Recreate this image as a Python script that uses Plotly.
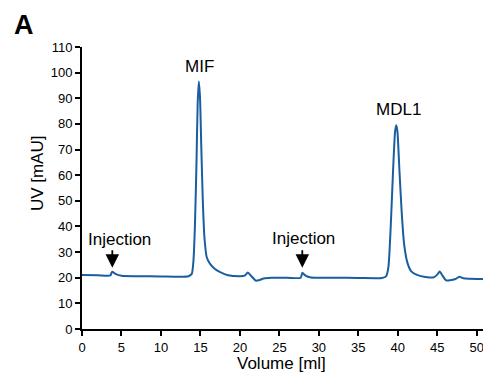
import plotly.graph_objects as go

# Chromatogram trace: volume (ml) and UV (mAU)
volume_ml = [0, 2, 3.6, 3.8, 4.3, 5, 7, 10, 12, 13.5, 13.9, 14.1, 14.3, 14.5, 14.65, 14.8,
             14.95, 15.1, 15.3, 15.5, 15.8, 16.2, 16.8, 17.5, 18.5, 20, 20.6, 21.0, 21.4,
             22.0, 22.4, 23.0, 24, 26, 27.7, 27.9, 28.3, 29, 32, 35, 38, 38.5, 38.8, 39.1,
             39.4, 39.65, 39.8, 39.95, 40.2, 40.5, 40.8, 41.2, 41.7, 42.5, 43.5, 44.5, 45.0,
             45.3, 45.7, 46.1, 46.6, 47.3, 47.8, 48.3, 49, 51.8]
uv_mau = [21.1, 21.0, 20.9, 22.3, 21.4, 20.8, 20.6, 20.5, 20.4, 20.6, 21.5, 26, 40, 65, 88, 96.5,
          90, 72, 50, 36, 28, 25.5, 23.5, 22.2, 21.0, 20.6, 20.8, 22.0, 20.8,
          18.9, 19.0, 19.7, 20.0, 20.0, 20.0, 21.9, 20.8, 20.1, 20.0, 19.9, 19.9, 20.5, 24, 40,
          62, 77, 79.5, 77, 62, 45, 33, 26, 22.5, 21.0, 20.3, 20.1, 21.2,
          22.4, 20.6, 19.0, 19.0, 19.5, 20.4, 19.8, 19.6, 19.5]

peak_labels = ["MIF", "MDL1"]
peak_x = [14.83, 40.1]
peak_label_y = [102.5, 85.5]

injection_x = [3.84, 27.9]
injection_tip_y = [23.9, 23.9]
injection_text_x = [4.78, 28.0]
injection_text_y = [34.8, 35.3]

x_ticks = list(range(0, 55, 5))
y_ticks = list(range(0, 120, 10))

font_family = "Liberation Sans, Arial, sans-serif"
line_color = "#1b5e9f"

fig = go.Figure()
fig.add_trace(go.Scatter(x=volume_ml, y=uv_mau, mode="lines",
                         line=dict(color=line_color, width=2, shape="spline", smoothing=0.6),
                         hoverinfo="skip", showlegend=False))

for lab, px, py in zip(peak_labels, peak_x, peak_label_y):
    fig.add_annotation(x=px, y=py, text=lab, showarrow=False,
                       font=dict(size=17, color="black", family=font_family),
                       xanchor="center", yanchor="middle")

for ix, tip, tx, ty in zip(injection_x, injection_tip_y, injection_text_x, injection_text_y):
    fig.add_annotation(x=tx, y=ty, text="Injection", showarrow=False,
                       font=dict(size=17, color="black", family=font_family),
                       xanchor="center", yanchor="middle")
    fig.add_annotation(x=ix, y=tip, text="", showarrow=True, ax=0, ay=-19,
                       arrowhead=2, arrowsize=1.5, arrowwidth=1.8, arrowcolor="black")

fig.add_annotation(xref="paper", yref="paper", x=-0.1088, y=0.551, text="UV [mAU]",
                   textangle=-90, showarrow=False, xanchor="center", yanchor="middle",
                   font=dict(size=17, color="black", family=font_family))
fig.add_annotation(xref="paper", yref="paper", x=0.4866, y=-0.121, text="Volume [ml]",
                   showarrow=False, xanchor="center", yanchor="middle",
                   font=dict(size=17, color="black", family=font_family))
fig.add_annotation(xref="paper", yref="paper", x=-0.1406, y=1.138, text="<b>A</b>",
                   showarrow=False, xanchor="center", yanchor="top",
                   font=dict(size=27, color="black", family=font_family))

axis_common = dict(showgrid=False, zeroline=False, showline=True, linecolor="black",
                   linewidth=2, ticks="outside", ticklen=5, tickwidth=1.6, tickcolor="black",
                   tickfont=dict(size=13, color="black", family=font_family))

fig.update_xaxes(range=[0, 51.8], tickvals=x_ticks, **axis_common)
fig.update_yaxes(range=[0, 110], tickvals=y_ticks, **axis_common)

# page body has an 8px margin, so the figure is sized to fill the rest of the window
fig.update_layout(width=483, height=372, margin=dict(l=74, r=0, t=39, b=51),
                  plot_bgcolor="white", paper_bgcolor="white",
                  font=dict(family=font_family))

fig.write_html("out.html")
